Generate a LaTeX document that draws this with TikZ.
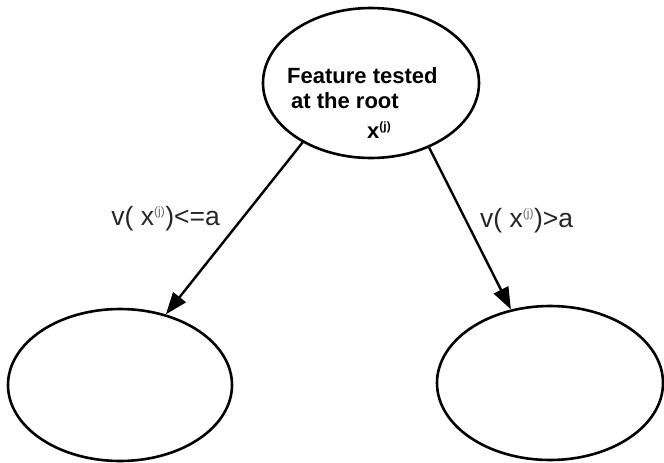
\documentclass[tikz,border=0pt]{standalone}
\usepackage{fontspec}
\setmainfont{Liberation Sans}
\usetikzlibrary{shapes,arrows,arrows.meta,positioning}

\begin{document}
\begin{tikzpicture}[
    x=1pt, y=-1pt,
    split/.style={ellipse, draw=black, line width=2.6pt, inner sep=0pt},
    rootlabel/.style={font=\fontsize{22}{24}\selectfont\bfseries, inner sep=0pt},
    edgelabel/.style={font=\fontsize{26.5}{28}\selectfont, text=black!85, inner sep=0pt},
    branch/.style={line width=2.4pt, -{Triangle[length=22pt,width=16pt]}}
]
\useasboundingbox (0,0) rectangle (664,463);

% Root test
\node [split, minimum width=216pt, minimum height=150pt] (root) at (371,83) {};
\node [rootlabel, anchor=base west] (ftext) at (287,83) {Feature tested};
\node [rootlabel, anchor=base west] (rtext) at (291,108) {at the root};
\node [rootlabel, anchor=base west] (xtext) at (367,138) {x\textsuperscript{\fontsize{12}{12}\selectfont(j)}};

% Children
\node [split, minimum width=224pt, minimum height=152pt] (left) at (120,385) {};
\node [split, minimum width=226pt, minimum height=154pt] (right) at (550,383) {};

% Branches
\draw [branch] (root.221) -- (left.57);
\draw [branch] (root.312) -- (right.118);

% Branch conditions
\node [edgelabel, anchor=base east] (lcond) at (220,225) {v( x\textsuperscript{\fontsize{12}{12}\selectfont\color{black!60}(j)})<=a};
\node [edgelabel, anchor=base west] (rcond) at (480,227) {v( x\textsuperscript{\fontsize{12}{12}\selectfont\color{black!60}(j)})>a};

\end{tikzpicture}
\end{document}
